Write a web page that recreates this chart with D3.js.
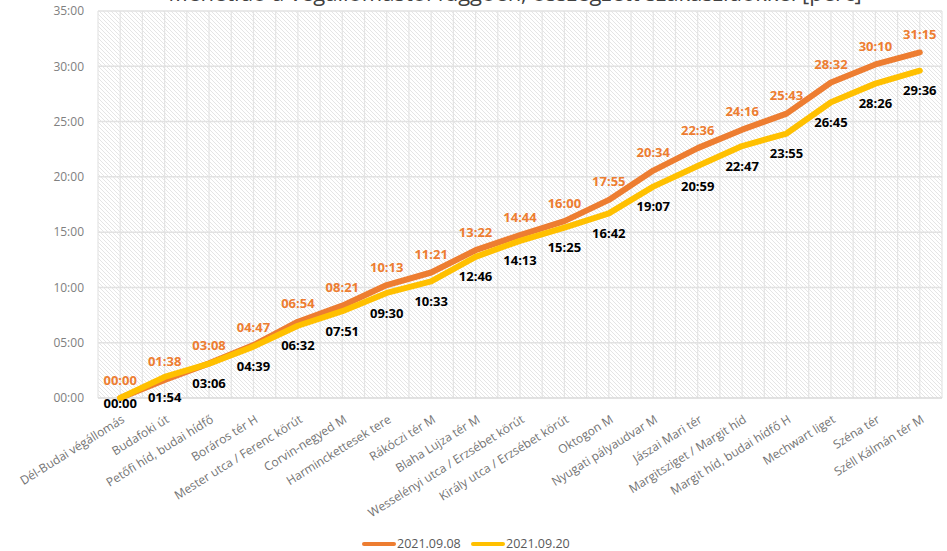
<!DOCTYPE html>
<html>
<head>
<meta charset="utf-8">
<script src="https://cdn.jsdelivr.net/npm/d3@7"></script>
<style>
  body { margin: 0; background: #fff; }
  svg { font-family: "Open Sans", "Noto Sans", sans-serif; }
</style>
</head>
<body>
<svg id="chart" width="947" height="551"></svg>
<script>
var stops = ['Dél-Budai végállomás', 'Budafoki út', 'Petőfi híd, budai hídfő', 'Boráros tér H',
  'Mester utca / Ferenc körút', 'Corvin-negyed M', 'Harminckettesek tere', 'Rákóczi tér M',
  'Blaha Lujza tér M', 'Wesselényi utca / Erzsébet körút', 'Király utca / Erzsébet körút',
  'Oktogon M', 'Nyugati pályaudvar M', 'Jászai Mari tér', 'Margitsziget / Margit híd',
  'Margit híd, budai hídfő H', 'Mechwart liget', 'Széna tér', 'Széll Kálmán tér M'];

var run0908 = ['00:00', '01:38', '03:08', '04:47', '06:54', '08:21', '10:13', '11:21', '13:22', '14:44',
  '16:00', '17:55', '20:34', '22:36', '24:16', '25:43', '28:32', '30:10', '31:15'];

var run0920 = ['00:00', '01:54', '03:06', '04:39', '06:32', '07:51', '09:30', '10:33', '12:46', '14:13',
  '15:25', '16:42', '19:07', '20:59', '22:47', '23:55', '26:45', '28:26', '29:36'];

var seriesNames = ['2021.09.08', '2021.09.20'];
var yTicks = [0, 300, 600, 900, 1200, 1500, 1800, 2100];

(function () {
  function toSec(s) {
    var p = s.split(':');
    return (+p[0]) * 60 + (+p[1]);
  }
  function fmt(sec) {
    var m = Math.floor(sec / 60), s = sec % 60;
    return d3.format('02')(m) + ':' + d3.format('02')(s);
  }

  var svg = d3.select('#chart');
  var pLeft = 98, pRight = 942, pTop = 11, pBottom = 398;

  var x = d3.scaleBand().domain(stops).range([pLeft, pRight]).padding(0);
  var bw = x.bandwidth();
  var y = d3.scaleLinear().domain([0, 2100]).range([pBottom, pTop]);

  // hatched plot background
  var defs = svg.append('defs');
  var pat = defs.append('pattern')
    .attr('id', 'hatch')
    .attr('patternUnits', 'userSpaceOnUse')
    .attr('width', 4).attr('height', 4);
  pat.append('rect').attr('width', 4).attr('height', 4).attr('fill', '#fff');
  pat.append('path').attr('d', 'M-1,-1 L5,5 M-1,3 L1,5 M3,-1 L5,1')
    .attr('stroke', '#e2e2e2').attr('stroke-width', 0.9);

  svg.append('rect')
    .attr('x', pLeft).attr('y', pTop)
    .attr('width', pRight - pLeft).attr('height', pBottom - pTop)
    .attr('fill', 'url(#hatch)');

  // vertical gridlines (band edges and centres)
  var vLines = [];
  stops.forEach(function (c) { vLines.push(x(c)); vLines.push(x(c) + bw / 2); });
  vLines.push(pRight);
  svg.append('g').selectAll('line').data(vLines).enter().append('line')
    .attr('x1', function (d) { return d; }).attr('x2', function (d) { return d; })
    .attr('y1', pTop).attr('y2', pBottom)
    .attr('stroke', '#e4e4e4').attr('stroke-width', 1.2);

  // horizontal gridlines
  svg.append('g').selectAll('line').data(yTicks).enter().append('line')
    .attr('x1', pLeft).attr('x2', pRight)
    .attr('y1', function (d) { return y(d); }).attr('y2', function (d) { return y(d); })
    .attr('stroke', function (d) { return d === 0 ? '#d9d9d9' : '#e2e2e2'; })
    .attr('stroke-width', 1.5);

  // y axis labels
  var yAxis = d3.axisLeft(y).tickValues(yTicks).tickFormat(fmt).tickSize(0).tickPadding(14);
  var gy = svg.append('g').attr('transform', 'translate(' + pLeft + ',0)').call(yAxis);
  gy.select('.domain').remove();
  gy.selectAll('text').attr('fill', '#808080').style('font-size', '12px')
    .style('font-family', '"Open Sans", sans-serif');

  // x axis labels
  svg.append('g').selectAll('text').data(stops).enter().append('text')
    .attr('transform', function (d) {
      return 'translate(' + (x(d) + bw / 2 + 3) + ',' + (pBottom + 20) + ') rotate(-32)';
    })
    .attr('text-anchor', 'end')
    .attr('dy', '0.35em')
    .attr('fill', '#737373')
    .style('font-size', '12px')
    .text(function (d) { return d; });

  // lines
  var line = d3.line()
    .x(function (d, i) { return x(stops[i]) + bw / 2; })
    .y(function (d) { return y(toSec(d)); });

  svg.append('path').datum(run0908)
    .attr('d', line).attr('fill', 'none')
    .attr('stroke', '#ED7D31').attr('stroke-width', 6)
    .attr('stroke-linejoin', 'round').attr('stroke-linecap', 'round');

  svg.append('path').datum(run0920)
    .attr('d', line).attr('fill', 'none')
    .attr('stroke', '#FFC000').attr('stroke-width', 6)
    .attr('stroke-linejoin', 'round').attr('stroke-linecap', 'round');

  // data labels
  svg.append('g').selectAll('text').data(run0908).enter().append('text')
    .attr('x', function (d, i) { return x(stops[i]) + bw / 2; })
    .attr('y', function (d) { return y(toSec(d)) - 18; })
    .attr('dy', '0.35em')
    .attr('text-anchor', 'middle')
    .attr('fill', '#ED7D31')
    .style('font-size', '13px').style('font-weight', 'bold')
    .text(function (d) { return d; });

  svg.append('g').selectAll('text').data(run0920).enter().append('text')
    .attr('x', function (d, i) { return x(stops[i]) + bw / 2; })
    .attr('y', function (d, i) { return y(toSec(d)) + (i === 0 ? 5 : 20); })
    .attr('dy', '0.35em')
    .attr('text-anchor', 'middle')
    .attr('fill', '#000')
    .style('font-size', '13px').style('font-weight', 'bold')
    .text(function (d) { return d; });

  // title (mostly cut off at the top)
  svg.append('text')
    .attr('x', 515).attr('y', 1)
    .attr('text-anchor', 'middle')
    .attr('fill', '#404040')
    .style('font-size', '22px')
    .text('Menetidő a végállomástól függően, összegzett szakaszidőkkel [perc]');

  // legend
  var colors = ['#ED7D31', '#FFC000'];
  var lg = svg.append('g').attr('transform', 'translate(363,544)');
  seriesNames.forEach(function (n, i) {
    var g = lg.append('g').attr('transform', 'translate(' + (i * 109) + ',0)');
    g.append('line').attr('x1', 1).attr('x2', 31).attr('y1', 0).attr('y2', 0)
      .attr('stroke', colors[i]).attr('stroke-width', 4).attr('stroke-linecap', 'round');
    g.append('text').attr('x', 34).attr('y', 0).attr('dy', '0.35em')
      .attr('fill', '#595959').style('font-size', '12.5px').text(n);
  });
})();
</script>
</body>
</html>
